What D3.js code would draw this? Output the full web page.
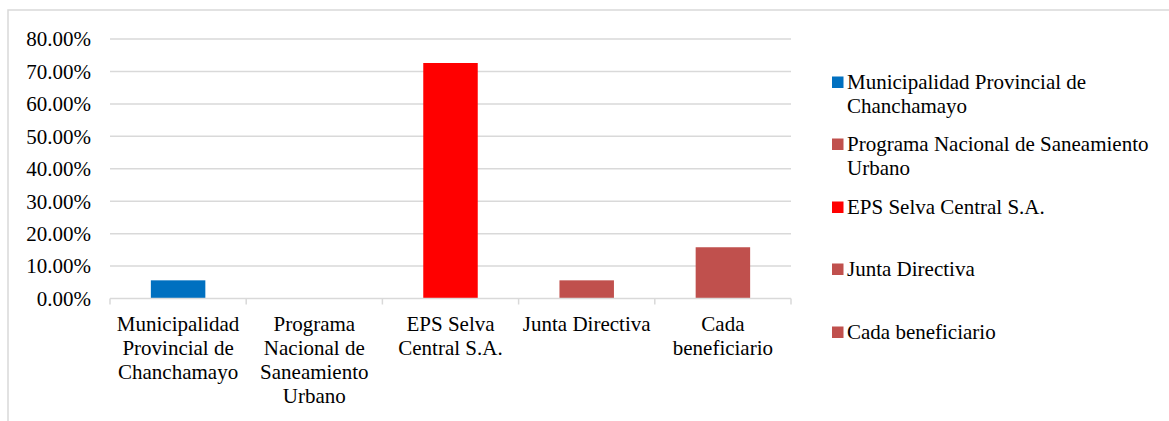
<!DOCTYPE html>
<html>
<head>
<meta charset="utf-8">
<script src="https://cdn.jsdelivr.net/npm/d3@7/dist/d3.min.js"></script>
<style>
  html, body { margin: 0; padding: 0; background: #fff; }
  svg { display: block; }
</style>
</head>
<body>
<svg id="chart" width="1169" height="421"></svg>
<script>
// ---- Data ----
const categories = [
  "Municipalidad Provincial de Chanchamayo",
  "Programa Nacional de Saneamiento Urbano",
  "EPS Selva Central S.A.",
  "Junta Directiva",
  "Cada beneficiario"
];
const values = [5.6, 0, 72.6, 5.6, 15.8]; // percent
const barColors = ["#0070C0", "#C0504D", "#FF0000", "#C0504D", "#C0504D"];
const axisLabelLines = [
  ["Municipalidad", "Provincial de", "Chanchamayo"],
  ["Programa", "Nacional de", "Saneamiento", "Urbano"],
  ["EPS Selva", "Central S.A."],
  ["Junta Directiva"],
  ["Cada", "beneficiario"]
];
const legendLabelLines = [
  ["Municipalidad Provincial de", "Chanchamayo"],
  ["Programa Nacional de Saneamiento", "Urbano"],
  ["EPS Selva Central S.A."],
  ["Junta Directiva"],
  ["Cada beneficiario"]
];
const yTicks = [0, 10, 20, 30, 40, 50, 60, 70, 80];

// ---- Font detection (pick an installed serif face) ----
function pickFont() {
  const cands = ["Liberation Serif", "Tinos", "Times New Roman", "Times", "DejaVu Serif", "Noto Serif", "FreeSerif", "Nimbus Roman", "Nimbus Roman No9 L"];
  const ctx = document.createElement("canvas").getContext("2d");
  const s = "Municipalidad Provincial 0123456789%";
  const res = [];
  for (const c of cands) {
    let differs = false;
    for (const base of ["monospace", "sans-serif"]) {
      ctx.font = `40px ${base}`;
      const w0 = ctx.measureText(s).width;
      ctx.font = `40px "${c}", ${base}`;
      const w1 = ctx.measureText(s).width;
      if (Math.abs(w1 - w0) > 0.5) differs = true;
      else { differs = false; break; }
    }
    if (differs) res.push(c);
  }
  return res;
}
const found = pickFont();
const FONT = (found.length ? found.map(f => `"${f}"`).join(", ") + ", " : "") + "serif";

// ---- Layout ----
const svg = d3.select("#chart").style("font-family", FONT);
const plot = { left: 110, right: 791, top: 39, bottom: 298.5 };
const fontSize = 21;
const lineH = 24;
const gridColor = "#d9d9d9";

// outer border
svg.append("rect")
  .attr("x", 8).attr("y", 10)
  .attr("width", 1300).attr("height", 600)
  .attr("fill", "none").attr("stroke", gridColor).attr("stroke-width", 1.5);

const x = d3.scaleBand().domain(categories).range([plot.left, plot.right]).padding(0);
const y = d3.scaleLinear().domain([0, 80]).range([plot.bottom, plot.top]);

// gridlines
svg.append("g").selectAll("line").data(yTicks.filter(t => t > 0)).join("line")
  .attr("x1", plot.left).attr("x2", plot.right)
  .attr("y1", d => y(d)).attr("y2", d => y(d))
  .attr("stroke", gridColor).attr("stroke-width", 1.5);

// y labels
svg.append("g").selectAll("text").data(yTicks).join("text")
  .attr("x", 91).attr("y", d => y(d)).attr("dy", "0.35em")
  .attr("text-anchor", "end")
  .attr("fill", "#000")
  .style("font-family", FONT)
  .style("font-size", fontSize + "px")
  .text(d => d3.format(".2f")(d) + "%");

// bars
const barW = x.bandwidth() * 0.4;
svg.append("g").selectAll("rect").data(categories).join("rect")
  .attr("x", d => x(d) + (x.bandwidth() - barW) / 2)
  .attr("width", barW)
  .attr("y", (d, i) => y(values[i]))
  .attr("height", (d, i) => y(0) - y(values[i]))
  .attr("fill", (d, i) => barColors[i]);

// x axis baseline and ticks
const xAxis = svg.append("g");
xAxis.append("line")
  .attr("x1", plot.left).attr("x2", plot.right)
  .attr("y1", y(0)).attr("y2", y(0))
  .attr("stroke", gridColor).attr("stroke-width", 1.5);
const boundaries = categories.map(c => x(c)).concat([plot.right]);
xAxis.selectAll("line.tick").data(boundaries).join("line")
  .attr("class", "tick")
  .attr("x1", d => d).attr("x2", d => d)
  .attr("y1", y(0)).attr("y2", y(0) + 6)
  .attr("stroke", gridColor).attr("stroke-width", 1.5);

// x labels
const xl = svg.append("g").selectAll("text").data(categories).join("text")
  .attr("text-anchor", "middle")
  .attr("fill", "#000")
  .style("font-family", FONT)
  .style("font-size", fontSize + "px")
  .attr("x", d => x(d) + x.bandwidth() / 2)
  .attr("y", 331);
xl.each(function(d, i) {
  const t = d3.select(this);
  axisLabelLines[i].forEach((ln, j) => {
    t.append("tspan")
      .attr("x", x(d) + x.bandwidth() / 2)
      .attr("y", 331 + j * lineH)
      .text(ln);
  });
});

// legend
const legendTop = [82, 144, 207, 269, 332];
const lg = svg.append("g").selectAll("g").data(categories).join("g");
lg.append("rect")
  .attr("x", 832).attr("y", (d, i) => legendTop[i] - 5.5)
  .attr("width", 11.5).attr("height", 11.5)
  .attr("fill", (d, i) => barColors[i]);
lg.append("text")
  .attr("fill", "#000")
  .style("font-family", FONT)
  .style("font-size", fontSize + "px")
  .each(function(d, i) {
    const t = d3.select(this);
    legendLabelLines[i].forEach((ln, j) => {
      t.append("tspan")
        .attr("x", 847)
        .attr("y", legendTop[i] + 6.5 + j * lineH)
        .text(ln);
    });
  });
</script>
</body>
</html>
